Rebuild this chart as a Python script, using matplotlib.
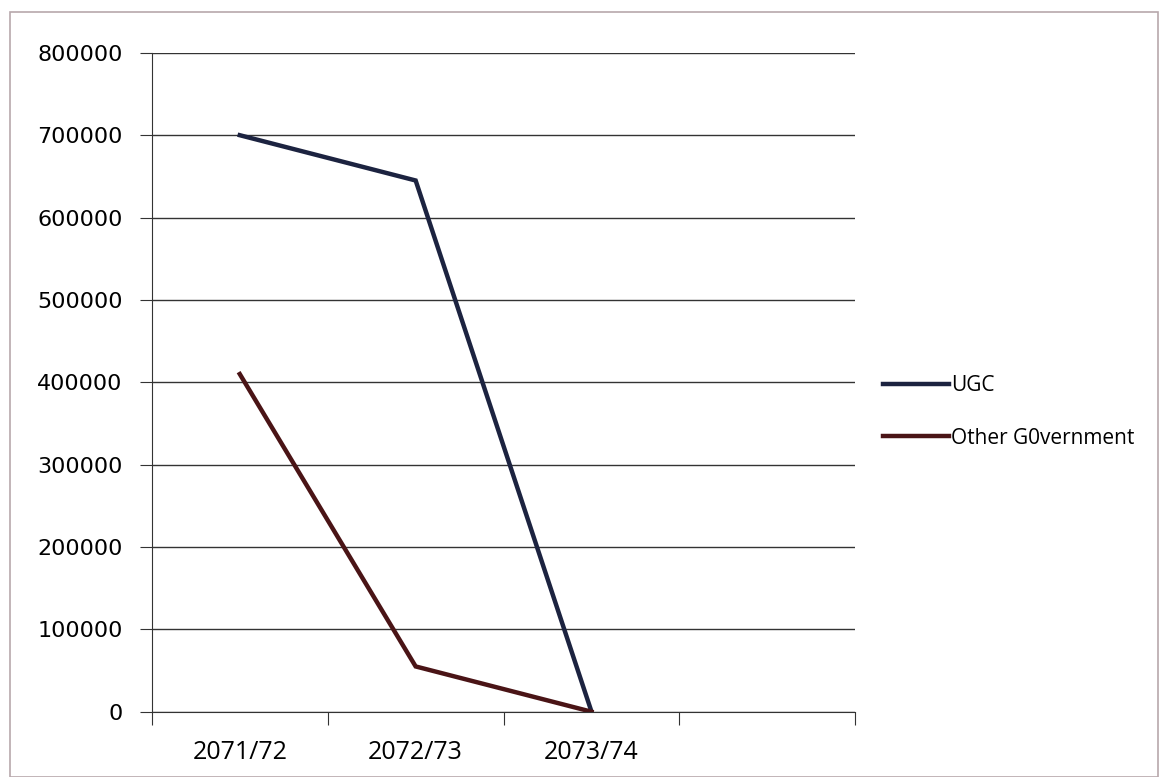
import matplotlib.pyplot as plt
from matplotlib.patches import Rectangle

# data
years = ["2071/72", "2072/73", "2073/74", ""]
ugc = [700000, 645000, 0]
other_gov = [410000, 55000, 0]
yticks = [0, 100000, 200000, 300000, 400000, 500000, 600000, 700000, 800000]

fig = plt.figure(figsize=(11.59, 7.77), dpi=100)
ax = fig.add_axes([0.131, 0.084, 0.607, 0.848])

# outer chart frame
fig.patches.append(Rectangle((0.009, 0.0), 0.99, 0.985, transform=fig.transFigure,
                             fill=False, edgecolor="#b8a8ac", linewidth=1.2))

xs = [i + 0.5 for i in range(len(ugc))]
ax.plot(xs, ugc, color="#1c2340", linewidth=3.2, label="UGC", solid_joinstyle="miter")
ax.plot(xs, other_gov, color="#4a1416", linewidth=3.2, label="Other G0vernment",
        solid_joinstyle="miter")

ax.set_xlim(0, len(years))
ax.set_ylim(0, 800000)
ax.set_yticks(yticks)
ax.set_yticklabels([str(v) for v in yticks], fontsize=16, family="DejaVu Sans")
ax.set_xticks(range(len(years) + 1))
ax.set_xticklabels([])
ax.set_xticks([i + 0.5 for i in range(len(years))], minor=True)
ax.set_xticklabels(years, minor=True, fontsize=18, family="Open Sans")
ax.tick_params(axis="x", which="minor", length=0, pad=20)
ax.tick_params(axis="x", which="major", length=9, color="#333333", direction="out")
ax.tick_params(axis="y", length=9, color="#333333", pad=12)

ax.grid(axis="y", color="#333333", linewidth=1.0)
ax.set_axisbelow(True)
for s in ["top", "right"]:
    ax.spines[s].set_visible(False)
ax.spines["left"].set_color("#333333")
ax.spines["bottom"].set_color("#333333")

ax.legend(loc="center left", bbox_to_anchor=(1.012, 0.455), frameon=False,
          handlelength=3.2, handletextpad=0.1, labelspacing=1.5,
          prop={"family": "Open Sans", "size": 15})

fig.savefig("out.png", dpi=100)
